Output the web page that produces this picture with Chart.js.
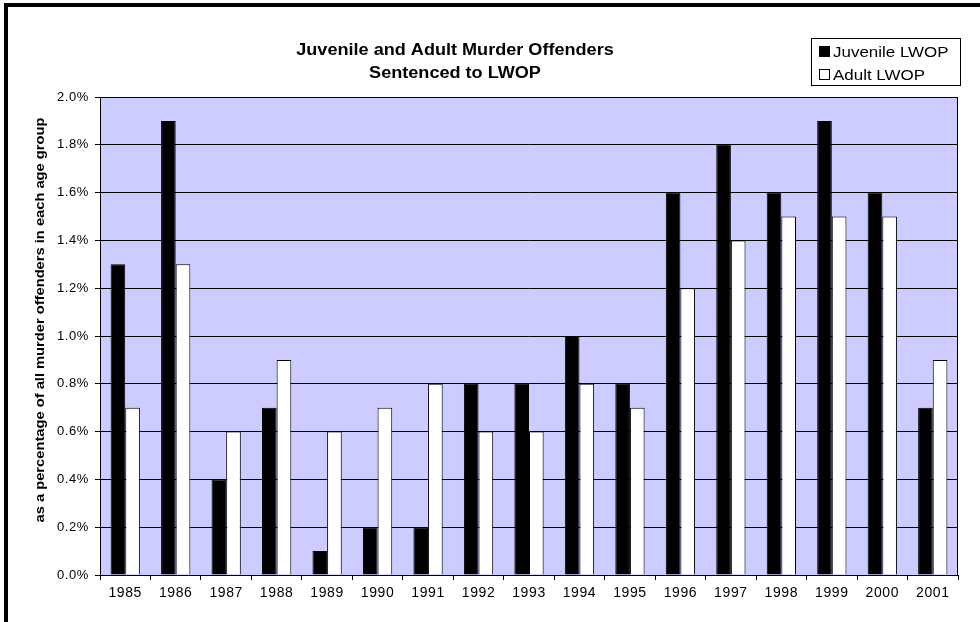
<!DOCTYPE html>
<html>
<head>
<meta charset="utf-8">
<script src="https://cdn.jsdelivr.net/npm/chart.js@4/dist/chart.umd.min.js"></script>
<style>
  html, body { margin: 0; padding: 0; background: #fff; }
  #wrap { width: 980px; height: 622px; }
</style>
</head>
<body>
<div id="wrap"><canvas id="lwopChart"></canvas></div>
<script>
// data (percent)
const years = ["1985", "1986", "1987", "1988", "1989", "1990", "1991", "1992", "1993",
    "1994", "1995", "1996", "1997", "1998", "1999", "2000", "2001"];
const juvenileLwop = [1.3, 1.9, 0.4, 0.7, 0.1, 0.2, 0.2, 0.8, 0.8, 1.0, 0.8, 1.6, 1.8, 1.6, 1.9, 1.6, 0.7];
const adultLwop = [0.7, 1.3, 0.6, 0.9, 0.6, 0.7, 0.8, 0.6, 0.6, 0.8, 0.7, 1.2, 1.4, 1.5, 1.5, 1.5, 0.9];
const seriesNames = ["Juvenile LWOP", "Adult LWOP"];
const titleLines = ["Juvenile and Adult Murder Offenders", "Sentenced to LWOP"];
const yAxisTitle = "as a percentage of all murder offenders in each age group";

const FONT = "Arial, 'Liberation Sans', sans-serif";
// the excel picture has slightly wide text, so stretch what we draw ourselves
const STRETCH = 1.13;

const stretchedText = (ctx, text, x, y, align) => {
    ctx.save();
    ctx.translate(x, y);
    ctx.scale(STRETCH, 1);
    ctx.textAlign = align;
    ctx.fillText(text, 0, 0);
    ctx.restore();
};

// plot background, frame, outer border, title, y title and legend box
const excelLook = {
    id: "excelLook",
    beforeDraw: (chart) => {
        const ctx = chart.ctx;
        const area = chart.chartArea;
        ctx.save();
        ctx.fillStyle = "#ffffff";
        ctx.fillRect(0, 0, chart.width, chart.height);
        // outer border (only top and left show in the picture)
        ctx.fillStyle = "#000000";
        ctx.fillRect(4, 3, chart.width - 4, 4);
        ctx.fillRect(4, 3, 4, chart.height - 3);
        ctx.fillStyle = "#ccccff";
        ctx.fillRect(area.left, area.top, area.right - area.left, area.bottom - area.top);
        ctx.restore();
        // tick labels look a bit spread out too
        ctx.letterSpacing = "0.6px";
    },
    afterDraw: (chart) => {
        const ctx = chart.ctx;
        const area = chart.chartArea;
        ctx.save();
        ctx.letterSpacing = "0px";
        ctx.strokeStyle = "#000000";
        ctx.lineWidth = 1;
        ctx.strokeRect(area.left + 0.5, area.top + 0.5, area.right - area.left - 1, area.bottom - area.top);

        // title
        ctx.fillStyle = "#000000";
        ctx.font = "bold 16px " + FONT;
        ctx.textBaseline = "alphabetic";
        titleLines.forEach((line, i) => {
            stretchedText(ctx, line, 455, 55 + i * 23, "center");
        });

        // y axis title, rotated
        ctx.save();
        ctx.translate(44, 320);
        ctx.rotate(-Math.PI / 2);
        ctx.font = "bold 13px " + FONT;
        stretchedText(ctx, yAxisTitle, 0, 0, "center");
        ctx.restore();

        // legend
        ctx.fillStyle = "#ffffff";
        ctx.fillRect(811, 38, 150, 48);
        ctx.strokeRect(811.5, 38.5, 149, 47);
        ctx.font = "15px " + FONT;
        chart.data.datasets.forEach((ds, i) => {
            const base = 57 + i * 23;
            ctx.fillStyle = ds.backgroundColor;
            ctx.fillRect(819, base - 11, 11, 11);
            ctx.strokeRect(819.5, base - 10.5, 10, 10);
            ctx.fillStyle = "#000000";
            stretchedText(ctx, ds.label, 833, base, "left");
        });
        ctx.restore();
    },
};

const ctx = document.getElementById("lwopChart").getContext("2d");
const lwopChart = new Chart(ctx, {
    type: "bar",
    data: {
        labels: years,
        datasets: [
            {
                label: seriesNames[0],
                data: juvenileLwop,
                backgroundColor: "#000000",
                borderColor: "#000000",
                borderWidth: 1,
            },
            {
                label: seriesNames[1],
                data: adultLwop,
                backgroundColor: "#ffffff",
                borderColor: "#000000",
                borderWidth: 1,
            },
        ],
    },
    options: {
        responsive: true,
        maintainAspectRatio: false,
        animation: false,
        devicePixelRatio: 1,
        layout: { padding: { top: 97, right: 22, bottom: 0, left: 0 } },
        datasets: { bar: { categoryPercentage: 0.58, barPercentage: 1.0 } },
        plugins: {
            legend: { display: false },
            title: { display: false },
            tooltip: { enabled: false },
        },
        scales: {
            x: {
                offset: true,
                grid: {
                    display: true,
                    offset: true,
                    drawOnChartArea: false,
                    color: "#000000",
                    tickLength: 5,
                },
                border: { color: "#000000" },
                ticks: {
                    color: "#000000",
                    font: { family: FONT, size: 14 },
                    padding: 5,
                    maxRotation: 0,
                    autoSkip: false,
                },
                afterFit: (scale) => { scale.height = 47; },
            },
            y: {
                min: 0,
                max: 2.0,
                grid: { color: "#000000", tickLength: 5 },
                border: { color: "#000000" },
                ticks: {
                    stepSize: 0.2,
                    color: "#000000",
                    font: { family: FONT, size: 13 },
                    padding: 6,
                    callback: (value) => value.toFixed(1) + "%",
                },
                afterFit: (scale) => { scale.width = 100; },
            },
        },
    },
    plugins: [excelLook],
});
</script>
</body>
</html>
